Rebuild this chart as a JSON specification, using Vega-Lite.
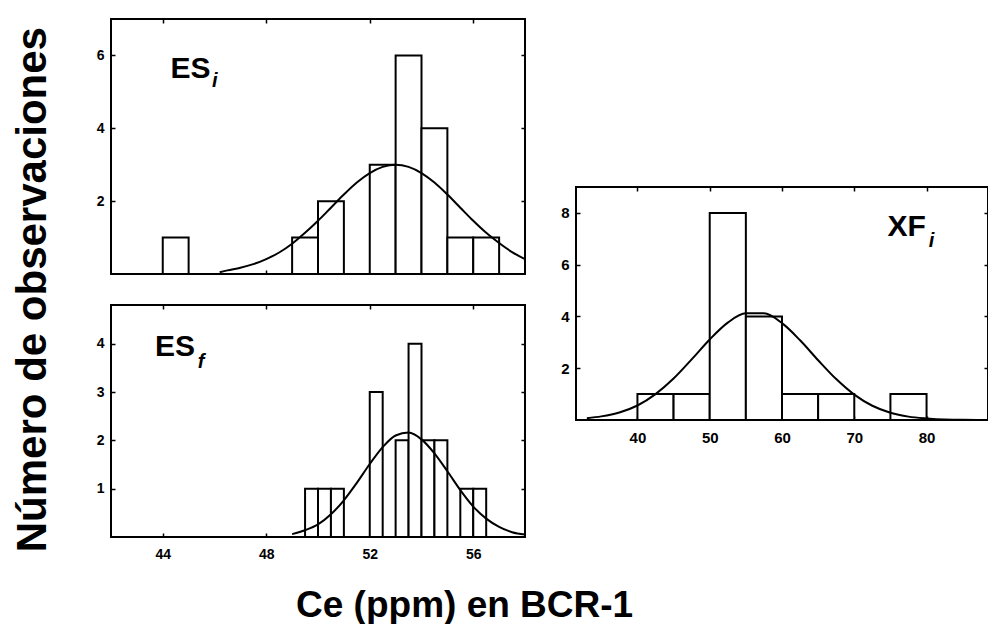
{
  "$schema": "https://vega.github.io/schema/vega-lite/v6.json",
  "background": "white",
  "padding": {"left": 12, "top": 17, "right": 0, "bottom": 0},
  "config": {
    "font": "Liberation Sans",
    "view": {"stroke": "black", "strokeWidth": 2},
    "axis": {
      "domain": false, "grid": false, "ticks": true, "tickSize": -4, "tickColor": "black", "tickWidth": 1.5,
      "labelFont": "Liberation Sans", "labelFontWeight": "bold", "labelFontSize": 14, "labelColor": "black"
    }
  },
  "datasets": {
    "esi_bars": [
      {"lo": 44, "hi": 45, "n": 1}, {"lo": 49, "hi": 50, "n": 1}, {"lo": 50, "hi": 51, "n": 2},
      {"lo": 52, "hi": 53, "n": 3}, {"lo": 53, "hi": 54, "n": 6}, {"lo": 54, "hi": 55, "n": 4},
      {"lo": 55, "hi": 56, "n": 1}, {"lo": 56, "hi": 57, "n": 1}
    ],
    "esi_curve": [
      {"x": 46.2, "y": 0.05}, {"x": 46.5, "y": 0.10}, {"x": 47, "y": 0.17}, {"x": 47.5, "y": 0.27},
      {"x": 48, "y": 0.41}, {"x": 48.5, "y": 0.59}, {"x": 49, "y": 0.83}, {"x": 49.5, "y": 1.13},
      {"x": 50, "y": 1.46}, {"x": 50.5, "y": 1.82}, {"x": 51, "y": 2.18}, {"x": 51.5, "y": 2.51},
      {"x": 52, "y": 2.77}, {"x": 52.5, "y": 2.94}, {"x": 53, "y": 3.0}, {"x": 53.5, "y": 2.94},
      {"x": 54, "y": 2.77}, {"x": 54.5, "y": 2.51}, {"x": 55, "y": 2.18}, {"x": 55.5, "y": 1.82},
      {"x": 56, "y": 1.46}, {"x": 56.5, "y": 1.13}, {"x": 57, "y": 0.85}, {"x": 57.5, "y": 0.6},
      {"x": 58, "y": 0.41}
    ],
    "esf_bars": [
      {"lo": 49.5, "hi": 50, "n": 1}, {"lo": 50, "hi": 50.5, "n": 1}, {"lo": 50.5, "hi": 51, "n": 1},
      {"lo": 52, "hi": 52.5, "n": 3}, {"lo": 53, "hi": 53.5, "n": 2}, {"lo": 53.5, "hi": 54, "n": 4},
      {"lo": 54, "hi": 54.5, "n": 2}, {"lo": 54.5, "hi": 55, "n": 2}, {"lo": 55.5, "hi": 56, "n": 1},
      {"lo": 56, "hi": 56.5, "n": 1}
    ],
    "esf_curve": [
      {"x": 49, "y": 0.06}, {"x": 49.5, "y": 0.14}, {"x": 50, "y": 0.26}, {"x": 50.5, "y": 0.47},
      {"x": 51, "y": 0.76}, {"x": 51.5, "y": 1.12}, {"x": 52, "y": 1.51}, {"x": 52.5, "y": 1.86},
      {"x": 53, "y": 2.10}, {"x": 53.5, "y": 2.16}, {"x": 54, "y": 2.02}, {"x": 54.5, "y": 1.73},
      {"x": 55, "y": 1.36}, {"x": 55.5, "y": 0.97}, {"x": 56, "y": 0.63}, {"x": 56.5, "y": 0.38},
      {"x": 57, "y": 0.21}, {"x": 57.5, "y": 0.10}, {"x": 58, "y": 0.05}
    ],
    "xf_bars": [
      {"lo": 40, "hi": 45, "n": 1}, {"lo": 45, "hi": 50, "n": 1}, {"lo": 50, "hi": 55, "n": 8},
      {"lo": 55, "hi": 60, "n": 4}, {"lo": 60, "hi": 65, "n": 1}, {"lo": 65, "hi": 70, "n": 1},
      {"lo": 75, "hi": 80, "n": 1}
    ],
    "xf_curve": [
      {"x": 33, "y": 0.07}, {"x": 35, "y": 0.14}, {"x": 37.5, "y": 0.29}, {"x": 40, "y": 0.56},
      {"x": 42.5, "y": 1.0}, {"x": 45, "y": 1.6}, {"x": 47.5, "y": 2.34}, {"x": 50, "y": 3.11},
      {"x": 52.5, "y": 3.76}, {"x": 55, "y": 4.12}, {"x": 57.5, "y": 4.12}, {"x": 60, "y": 3.74},
      {"x": 62.5, "y": 3.08}, {"x": 65, "y": 2.31}, {"x": 67.5, "y": 1.58}, {"x": 70, "y": 0.98},
      {"x": 72.5, "y": 0.55}, {"x": 75, "y": 0.28}, {"x": 77.5, "y": 0.13}, {"x": 80, "y": 0.06},
      {"x": 82.5, "y": 0.02}, {"x": 85, "y": 0.01}, {"x": 88.5, "y": 0.0}
    ]
  },
  "title": {
    "text": "Ce (ppm) en BCR-1", "orient": "bottom", "anchor": "middle", "fontSize": 37,
    "fontWeight": "bold", "font": "Liberation Sans", "color": "black", "offset": 26, "dx": -38
  },
  "spacing": 29,
  "hconcat": [
    {
      "title": {
        "text": "Número de observaciones", "orient": "left", "anchor": "middle", "fontSize": 42,
        "fontWeight": "bold", "font": "Liberation Sans", "color": "black", "offset": 40
      },
      "spacing": 25,
      "vconcat": [
        {
          "width": 414, "height": 255,
          "resolve": {"axis": {"x": "independent", "y": "independent"}},
          "layer": [
            {
              "data": {"name": "esi_bars"},
              "mark": {"type": "rect", "fill": "white", "stroke": "black", "strokeWidth": 2},
              "encoding": {
                "x": {"field": "lo", "type": "quantitative", "title": null, "scale": {"domain": [42, 58], "nice": false, "zero": false}, "axis": {"orient": "bottom", "values": [44, 48, 52, 56], "labels": false}},
                "x2": {"field": "hi"},
                "y": {"field": "n", "type": "quantitative", "title": null, "scale": {"domain": [0, 7], "nice": false}, "axis": {"orient": "left", "values": [2, 4, 6], "labelPadding": 11}},
                "y2": {"datum": 0}
              }
            },
            {
              "data": {"name": "esi_curve"},
              "mark": {"type": "line", "color": "black", "strokeWidth": 2, "interpolate": "monotone"},
              "encoding": {
                "x": {"field": "x", "type": "quantitative", "title": null, "scale": {"domain": [42, 58], "nice": false, "zero": false}, "axis": {"orient": "top", "values": [44, 48, 52, 56], "labels": false}},
                "y": {"field": "y", "type": "quantitative", "title": null, "scale": {"domain": [0, 7], "nice": false}, "axis": {"orient": "right", "values": [2, 4, 6], "labels": false}}
              }
            },
            {
              "data": {"values": [{"label": "ES"}]},
              "mark": {"type": "text", "fontSize": 30, "fontWeight": "bold", "align": "left", "baseline": "alphabetic", "color": "black"},
              "encoding": {
                "text": {"field": "label"},
                "x": {"datum": 44.3, "type": "quantitative", "axis": null},
                "y": {"datum": 5.38, "type": "quantitative", "axis": null}
              }
            },
            {
              "data": {"values": [{"label": "i"}]},
              "mark": {"type": "text", "fontSize": 20, "fontWeight": "bold", "fontStyle": "italic", "align": "left", "baseline": "alphabetic", "color": "black"},
              "encoding": {
                "text": {"field": "label"},
                "x": {"datum": 45.9, "type": "quantitative", "axis": null},
                "y": {"datum": 5.12, "type": "quantitative", "axis": null}
              }
            }
          ]
        },
        {
          "width": 414, "height": 232,
          "resolve": {"axis": {"x": "independent", "y": "independent"}},
          "layer": [
            {
              "data": {"name": "esf_bars"},
              "mark": {"type": "rect", "fill": "white", "stroke": "black", "strokeWidth": 2},
              "encoding": {
                "x": {"field": "lo", "type": "quantitative", "title": null, "scale": {"domain": [42, 58], "nice": false, "zero": false}, "axis": {"orient": "bottom", "values": [44, 48, 52, 56], "labelPadding": 14}},
                "x2": {"field": "hi"},
                "y": {"field": "n", "type": "quantitative", "title": null, "scale": {"domain": [0, 4.8], "nice": false}, "axis": {"orient": "left", "values": [1, 2, 3, 4], "labelPadding": 11}},
                "y2": {"datum": 0}
              }
            },
            {
              "data": {"name": "esf_curve"},
              "mark": {"type": "line", "color": "black", "strokeWidth": 2, "interpolate": "monotone"},
              "encoding": {
                "x": {"field": "x", "type": "quantitative", "title": null, "scale": {"domain": [42, 58], "nice": false, "zero": false}, "axis": {"orient": "top", "values": [44, 48, 52, 56], "labels": false}},
                "y": {"field": "y", "type": "quantitative", "title": null, "scale": {"domain": [0, 4.8], "nice": false}, "axis": {"orient": "right", "values": [1, 2, 3, 4], "labels": false}}
              }
            },
            {
              "data": {"values": [{"label": "ES"}]},
              "mark": {"type": "text", "fontSize": 30, "fontWeight": "bold", "align": "left", "baseline": "alphabetic", "color": "black"},
              "encoding": {
                "text": {"field": "label"},
                "x": {"datum": 43.7, "type": "quantitative", "axis": null},
                "y": {"datum": 3.74, "type": "quantitative", "axis": null}
              }
            },
            {
              "data": {"values": [{"label": "f"}]},
              "mark": {"type": "text", "fontSize": 20, "fontWeight": "bold", "fontStyle": "italic", "align": "left", "baseline": "alphabetic", "color": "black"},
              "encoding": {
                "text": {"field": "label"},
                "x": {"datum": 45.35, "type": "quantitative", "axis": null},
                "y": {"datum": 3.5, "type": "quantitative", "axis": null}
              }
            }
          ]
        }
      ]
    },
    {
      "spacing": 0,
      "vconcat": [
        {
          "width": 412, "height": 166,
          "view": {"stroke": null},
          "data": {"values": []},
          "mark": "point",
          "encoding": {}
        },
        {
          "width": 412, "height": 233,
          "resolve": {"axis": {"x": "independent", "y": "independent"}},
          "layer": [
            {
              "data": {"name": "xf_bars"},
              "mark": {"type": "rect", "fill": "white", "stroke": "black", "strokeWidth": 2},
              "encoding": {
                "x": {"field": "lo", "type": "quantitative", "title": null, "scale": {"domain": [31.5, 88.5], "nice": false, "zero": false}, "axis": {"orient": "bottom", "values": [40, 50, 60, 70, 80], "labelPadding": 14, "labelFontSize": 15}},
                "x2": {"field": "hi"},
                "y": {"field": "n", "type": "quantitative", "title": null, "scale": {"domain": [0, 9], "nice": false}, "axis": {"orient": "left", "values": [2, 4, 6, 8], "labelPadding": 11, "labelFontSize": 15}},
                "y2": {"datum": 0}
              }
            },
            {
              "data": {"name": "xf_curve"},
              "mark": {"type": "line", "color": "black", "strokeWidth": 2, "interpolate": "monotone"},
              "encoding": {
                "x": {"field": "x", "type": "quantitative", "title": null, "scale": {"domain": [31.5, 88.5], "nice": false, "zero": false}, "axis": {"orient": "top", "values": [40, 50, 60, 70, 80], "labels": false}},
                "y": {"field": "y", "type": "quantitative", "title": null, "scale": {"domain": [0, 9], "nice": false}, "axis": {"orient": "right", "values": [2, 4, 6, 8], "labels": false}}
              }
            },
            {
              "data": {"values": [{"label": "XF"}]},
              "mark": {"type": "text", "fontSize": 30, "fontWeight": "bold", "align": "left", "baseline": "alphabetic", "color": "black"},
              "encoding": {
                "text": {"field": "label"},
                "x": {"datum": 74.6, "type": "quantitative", "axis": null},
                "y": {"datum": 7.1, "type": "quantitative", "axis": null}
              }
            },
            {
              "data": {"values": [{"label": "i"}]},
              "mark": {"type": "text", "fontSize": 20, "fontWeight": "bold", "fontStyle": "italic", "align": "left", "baseline": "alphabetic", "color": "black"},
              "encoding": {
                "text": {"field": "label"},
                "x": {"datum": 80.3, "type": "quantitative", "axis": null},
                "y": {"datum": 6.7, "type": "quantitative", "axis": null}
              }
            }
          ]
        }
      ]
    }
  ]
}
